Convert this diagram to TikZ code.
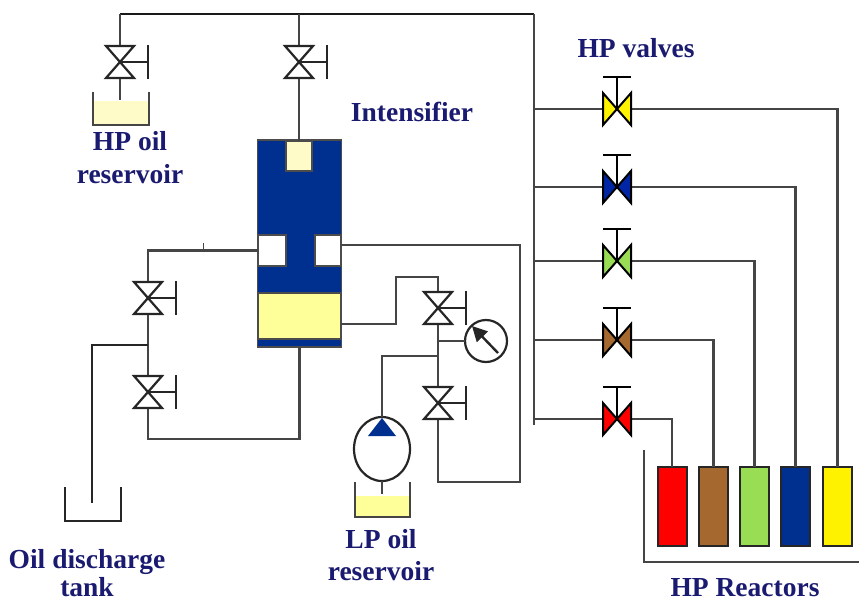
\documentclass[tikz,border=0pt]{standalone}
\usepackage{fontspec}
\setmainfont{Liberation Serif}
\usetikzlibrary{arrows.meta,shapes.geometric}
\definecolor{pipe}{HTML}{454545}
\definecolor{navytext}{HTML}{1A1A70}
\definecolor{steel}{HTML}{00308F}
\definecolor{oilpale}{HTML}{FFFBC8}
\definecolor{oilmid}{HTML}{FFFF99}
\definecolor{rbrown}{HTML}{A5682F}
\definecolor{rgreen}{HTML}{99DD55}
\tikzset{
  pipeline/.style={draw=pipe,line width=2.4pt,line join=miter},
  thinpipe/.style={draw=black!85,line width=1.8pt},
  label/.style={font=\fontsize{27.5}{30}\selectfont\bfseries,text=navytext,inner sep=0pt,anchor=base},
  block/.style={draw=#1,line width=1.8pt,inner sep=0pt,outer sep=0pt},
  reactor/.style={draw=black!85,line width=2pt,fill=#1,minimum width=29pt,minimum height=79pt,inner sep=0pt,outer sep=0pt},
  gauge/.style={circle,draw=black!85,line width=2.2pt,fill=white,minimum size=42pt,inner sep=0pt,outer sep=0pt},
  pump/.style={ellipse,draw=black!85,line width=2.2pt,fill=white,minimum width=56pt,minimum height=64pt,inner sep=0pt,outer sep=0pt},
  vvalve/.pic={
    \draw[black!85,line width=2.2pt,fill=white,line join=miter] (0,0)--(-14,-16)--(14,-16)--cycle;
    \draw[black!85,line width=2.2pt,fill=white,line join=miter] (0,0)--(-14,16)--(14,16)--cycle;
    \draw[black!85,line width=2pt] (0,0)--(28,0) (28,-17)--(28,17);
  },
  hvalve/.pic={
    \draw[black,line width=2pt,fill=#1,line join=miter] (0,0)--(-14,-16)--(-14,16)--cycle;
    \draw[black,line width=2pt,fill=#1,line join=miter] (0,0)--(14,-16)--(14,16)--cycle;
    \draw[black,line width=1.8pt] (0,0)--(0,-32) (-14,-32)--(14,-32);
  },
}
\begin{document}
\begin{tikzpicture}[x=1pt,y=-1pt]
\useasboundingbox (0,0) rectangle (859,603);
% named points
\coordinate (topL) at (120,14);
\coordinate (topR) at (534,14);
\coordinate (topM) at (299,14);
\coordinate (busEnd) at (534,425);
\coordinate (v1) at (120,62);
\coordinate (v2) at (299,62);
\coordinate (v3) at (148,298);
\coordinate (v4) at (148,392);
\coordinate (v5) at (438,308);
\coordinate (v6) at (438,403);
\coordinate (h1) at (617,109);
\coordinate (h2) at (617,187);
\coordinate (h3) at (617,261);
\coordinate (h4) at (617,340);
\coordinate (h5) at (617,419);
\coordinate (hpin) at (120,100);
\coordinate (dj) at (148,345);
\coordinate (dtank) at (92,503);
\coordinate (tick) at (203,243);
\coordinate (tickb) at (203,250);
\coordinate (j1) at (438,341);
\coordinate (j2) at (438,356);
\coordinate (lpin) at (382,494);
\coordinate (b1) at (534,109);
\coordinate (b2) at (534,187);
\coordinate (b3) at (534,261);
\coordinate (b4) at (534,340);
\coordinate (b5) at (534,419);
% reactors
\node[reactor=red] (r1) at (672,506.5) {};
\node[reactor=rbrown] (r2) at (713.5,506.5) {};
\node[reactor=rgreen] (r3) at (754.5,506.5) {};
\node[reactor=steel] (r4) at (795.5,506.5) {};
\node[reactor=yellow] (r5) at (837.5,506.5) {};
% intensifier
\node[block=black!70,fill=steel,minimum width=84pt,minimum height=207pt] (body) at (299.5,243.5) {};
\node[block=black!70,fill=oilpale,minimum width=26pt,minimum height=30pt] (plug) at (299,156) {};
\node[block=black!70,fill=white,minimum width=28pt,minimum height=31pt] (portL) at (272,250.5) {};
\node[block=black!70,fill=white,minimum width=26pt,minimum height=31pt] (portR) at (328,250.5) {};
\node[block=black!70,fill=oilmid,minimum width=83pt,minimum height=46pt] (oil) at (299.5,316) {};
% gauge and pump
\node[gauge] (g) at (486,341) {};
\node[pump] (p) at (382,449) {};
% pipes
\draw[line width=2.6pt,black!90] (topL)--(topR);
\draw[pipeline] (topL)--(v1)--(hpin);
\draw[pipeline] (topM)--(v2)--(plug.north);
\draw[pipeline] (topR)--(busEnd);
\draw[pipeline] (portL.west)-|(v3)--(v4)|-(299.5,439)--(body.south);
\draw[line width=1pt,pipe] (tick)--(tickb);
\draw[thinpipe] (dj)-|(dtank);
\draw[pipeline] (portR.east |- 0,245)-|(520,482)-|(v6);
\draw[pipeline] (v6)--(v5)--(438,277)-|(396,324)--(oil.east |- 0,324);
\draw[pipeline] (j1)--(g.west);
\draw[pipeline] (j2)-|(p.north);
\draw[pipeline] (p.south)--(lpin);
\draw[pipeline] (b1)--(h1)-|(r5.north);
\draw[pipeline] (b2)--(h2)-|(r4.north);
\draw[pipeline] (b3)--(h3)-|(r3.north);
\draw[pipeline] (b4)--(h4)-|(r2.north);
\draw[pipeline] (b5)--(h5)-|(r1.north);
\draw[pipeline] (644,450)|-(859,562);
% valves
\pic at (v1) {vvalve};
\pic at (v2) {vvalve};
\pic at (v3) {vvalve};
\pic at (v4) {vvalve};
\pic at (v5) {vvalve};
\pic at (v6) {vvalve};
\pic at (h1) {hvalve=yellow};
\pic at (h2) {hvalve={steel!80!blue}};
\pic at (h3) {hvalve=rgreen};
\pic at (h4) {hvalve=rbrown};
\pic at (h5) {hvalve=red};
% pump triangle, gauge needle
\fill[steel] (382,418)--(396,436)--(368,436)--cycle;
\draw[line width=2.4pt,black!85,-{Triangle[length=15pt,width=15pt]}] (498,353)--(472,326);
% reservoirs and tank
\fill[oilpale] (93,101) rectangle (149,124);
\draw[line width=2.2pt,pipe] (93,92)--(93,125)--(149,125)--(149,92);
\fill[oilmid] (355,496) rectangle (410,516);
\draw[line width=2.2pt,pipe] (355,482)--(355,517)--(410,517)--(410,482);
\draw[line width=2pt,black!85] (65,487)--(65,521)--(121,521)--(121,487);
% labels
\node[label] (lhp) at (130,150) {HP oil};
\node[label] (lhp2) at (130,183) {reservoir};
\node[label] (lint) at (412,121) {Intensifier};
\node[label] (lvalves) at (636,57) {HP valves};
\node[label] (ldis) at (87,568) {Oil discharge};
\node[label] (ltank) at (87,596.5) {tank};
\node[label] (llp) at (381,548) {LP oil};
\node[label] (llp2) at (381,580) {reservoir};
\node[label] (lreact) at (745,596.5) {HP Reactors};
\end{tikzpicture}
\end{document}
